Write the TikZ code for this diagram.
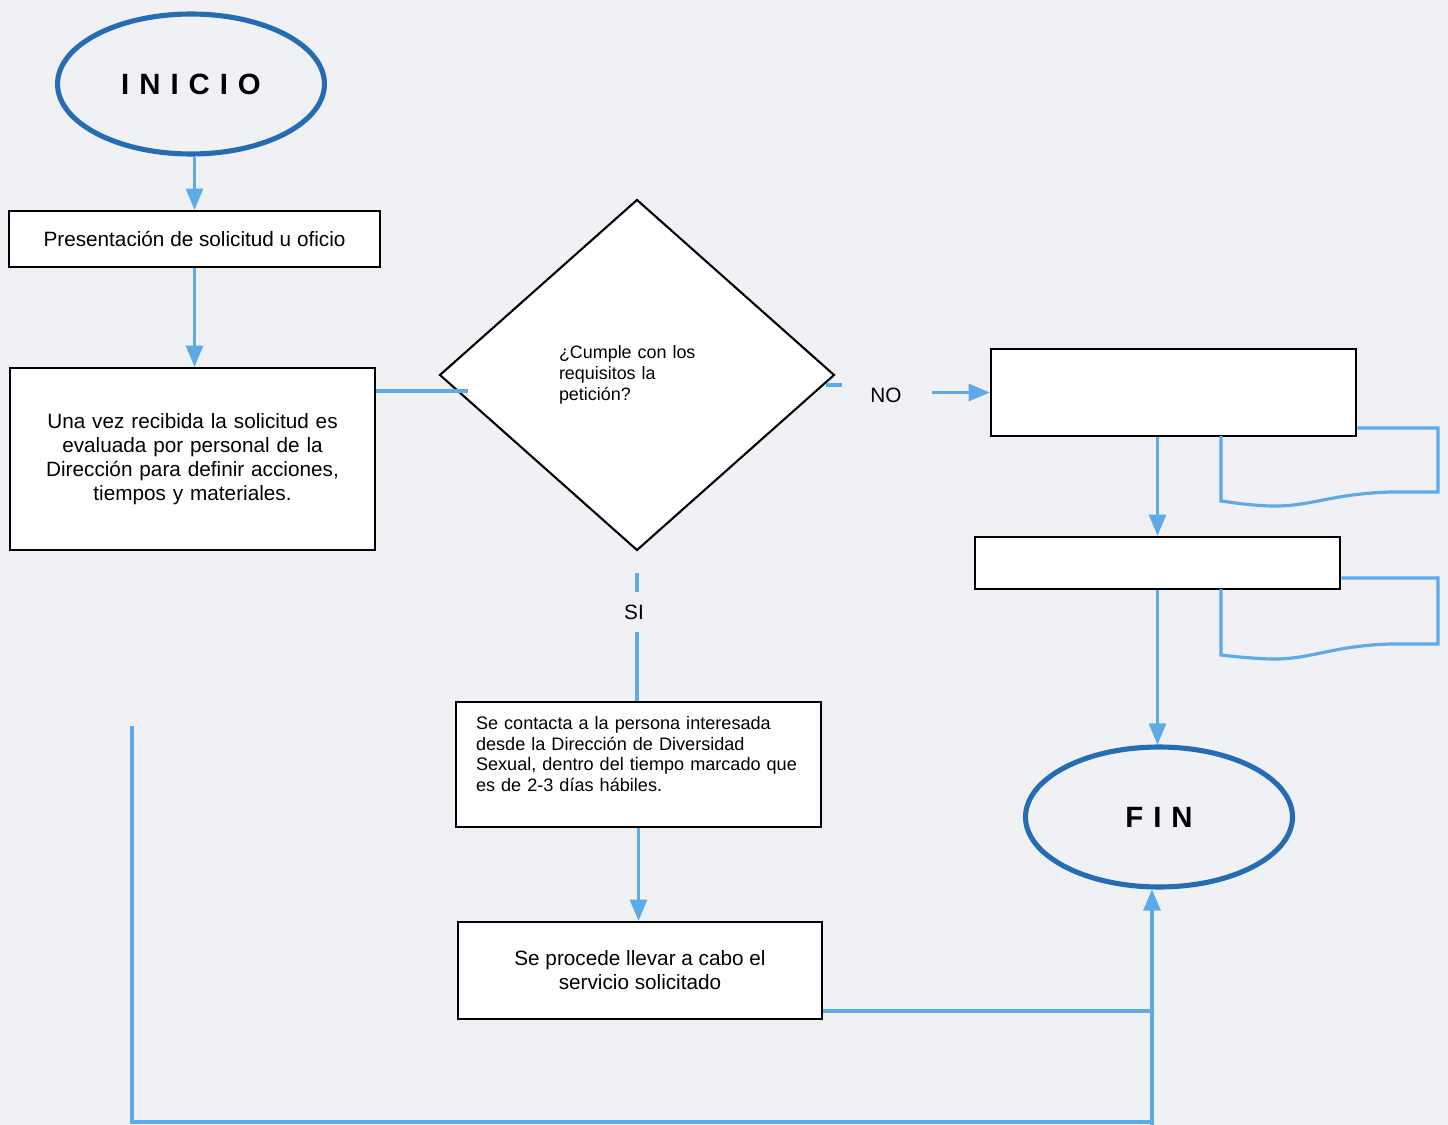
\documentclass[tikz,border=0pt]{standalone}
\usepackage{fontspec}
\setmainfont{Liberation Sans}
\newfontfamily\spacedfont[LetterSpace=34]{Liberation Sans}
\usetikzlibrary{arrows}
\usetikzlibrary{shapes.geometric}
\definecolor{ovalblue}{RGB}{38,108,178}
\definecolor{flowblue}{RGB}{92,170,232}
\definecolor{paper}{RGB}{239,241,244}

\begin{document}
\begin{tikzpicture}[x=0.02cm, y=-0.02cm]
    \tikzset{oval/.style = {shape=ellipse, draw=ovalblue, line width=2.9pt, fill=paper, minimum width=5.34cm, minimum height=2.8cm, font=\spacedfont\bfseries\fontsize{16.7}{20}\selectfont}}
    \tikzset{procbox/.style = {shape=rectangle, draw, line width=1.6pt, fill=white, inner sep=0pt, align=center, font=\fontsize{11.8}{13.7}\selectfont}}
    \tikzset{question/.style = {shape=diamond, draw, line width=1.2pt, fill=white, inner sep=0pt, minimum width=7.9cm, minimum height=7.02cm, text width=3.12cm, align=left, font=\fontsize{10.2}{11.9}\selectfont}}
    \tikzset{link/.style = {draw=flowblue, line width=1.8pt}}
    \tikzset{linkarrow/.style = {link, -triangle 45}}

    \useasboundingbox (0,0) rectangle (1448,1125);
    \fill[paper] (0,0) rectangle (1448,1125);

    % vertices
    \node[oval] (inicio) at (191,84) {INICIO};
    \node[procbox, minimum width=7.42cm, minimum height=1.12cm] (solicitud) at (194.5,239) {Presentación de solicitud u oficio};
    \node[procbox, minimum width=7.3cm, minimum height=3.64cm, text width=6.6cm] (evaluada) at (192.5,459) {Una vez recibida la solicitud es\\ evaluada por personal de la\\ Dirección para definir acciones,\\ tiempos y materiales.};
    \node[question] (requisitos) at (637,375) {¿Cumple con los\\ requisitos la\\ petición?};
    \node[procbox, minimum width=7.3cm, minimum height=1.74cm] (vacio1) at (1173.5,392.5) {};
    \node[procbox, minimum width=7.3cm, minimum height=1.04cm] (vacio2) at (1157.5,563) {};
    \node[procbox, minimum width=7.3cm, minimum height=2.5cm, text width=6.5cm, align=left, font=\fontsize{10.3}{11.9}\selectfont] (contacto) at (638.5,764.5) {Se contacta a la persona interesada\\ desde la Dirección de Diversidad\\ Sexual, dentro del tiempo marcado que\\ es de 2-3 días hábiles.\\[-0.12cm] \strut};
    \node[procbox, minimum width=7.28cm, minimum height=1.94cm] (servicio) at (640,970.5) {Se procede llevar a cabo el\\ servicio solicitado};
    \node[oval] (fin) at (1159,817) {FIN};

    \node[font=\fontsize{11.8}{13.7}\selectfont] (no) at (886,395) {NO};
    \node[font=\fontsize{11.8}{13.7}\selectfont] (si) at (634,612) {SI};

    \coordinate (dleft) at (468,391);
    \coordinate (nostart) at (826,385);
    \coordinate (nostub) at (842,385);
    \coordinate (noarrow) at (932,392.5);
    \coordinate (sitop) at (637,573);
    \coordinate (sistub) at (637,592);
    \coordinate (sibottom) at (637,632);
    \coordinate (joint) at (1152,1011);
    \coordinate (looptop) at (132,726);
    \coordinate (loopend) at (1152,1122);
    \coordinate (finbase) at (1152,1125);

    % edges
    \draw[linkarrow] (inicio.south -| solicitud.north) -- (solicitud.north);
    \draw[linkarrow] (solicitud.south) -- (solicitud.south |- evaluada.north);
    \draw[link] (evaluada.east |- dleft) -- (dleft);
    \draw[link] (nostart) -- (nostub);
    \draw[linkarrow] (noarrow) -- (vacio1.west);
    \draw[linkarrow] (vacio1.south -| vacio2.north) -- (vacio2.north);
    \draw[linkarrow] (vacio2.south) -- (vacio2.south |- fin.north);
    \draw[link] (sitop) -- (sistub);
    \draw[link] (sibottom) -- (sibottom |- contacto.north);
    \draw[linkarrow] (contacto.south) -- (contacto.south |- servicio.north);
    \draw[link] (servicio.east |- joint) -- (joint);
    \draw[link] (looptop) |- (loopend);
    \draw[linkarrow] (finbase) -- (fin.south -| finbase);

    % documents
    \draw[link] (vacio1.east |- 0,428) -- (1438,428) -- (1438,492) -- (1390,492) .. controls (1330,494) and (1310,507) .. (1270,506) .. controls (1245,505) and (1230,502) .. (1221,501) -- (1221,436);
    \draw[link] (vacio2.east |- 0,578) -- (1438,578) -- (1438,644) -- (1390,644) .. controls (1330,646) and (1310,660) .. (1270,659) .. controls (1245,658) and (1230,656) .. (1221,655) -- (1221,589);
\end{tikzpicture}
\end{document}
